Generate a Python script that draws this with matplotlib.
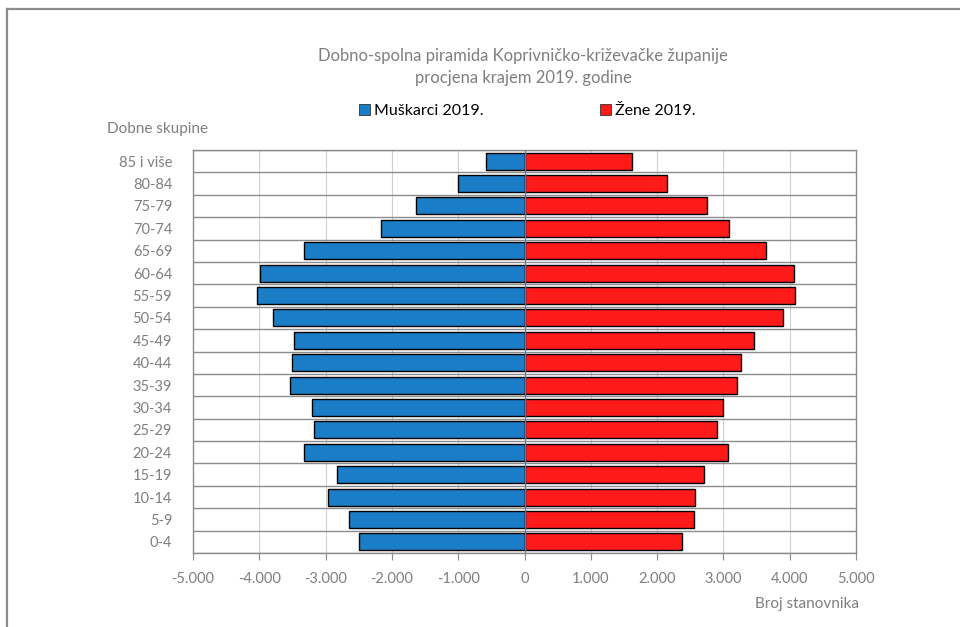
import matplotlib
matplotlib.use("Agg")
import matplotlib.pyplot as plt
from matplotlib.patches import Patch
from matplotlib.lines import Line2D
from matplotlib.ticker import FuncFormatter, MultipleLocator
import numpy as np

plt.rcParams['font.family'] = ['Lato', 'DejaVu Sans']

age_groups = ["0-4", "5-9", "10-14", "15-19", "20-24", "25-29", "30-34", "35-39",
              "40-44", "45-49", "50-54", "55-59", "60-64", "65-69", "70-74", "75-79",
              "80-84", "85 i više"]
males = [2495, 2650, 2965, 2825, 3330, 3180, 3205, 3540, 3510, 3470, 3800, 4035,
         3985, 3320, 2165, 1635, 1000, 580]
females = [2380, 2560, 2570, 2710, 3065, 2900, 2995, 3205, 3260, 3465, 3905, 4085,
           4070, 3640, 3090, 2750, 2145, 1625]
x_ticks = [-5000, -4000, -3000, -2000, -1000, 0, 1000, 2000, 3000, 4000, 5000]

title = "Dobno-spolna piramida Koprivničko-križevačke županije\nprocjena krajem 2019. godine"
male_label = "Muškarci 2019."
female_label = "Žene 2019."

blue = "#1B7DC5"
red = "#FF1A1A"
gray_text = "#7F7F7F"
grid_col = "#8C8C8C"

fig = plt.figure(figsize=(9.6, 6.27), dpi=100)
ax = fig.add_axes([193/960, 1-553/627, (856-193)/960, (553-150)/627])

y = np.arange(len(age_groups))
ax.barh(y, [-m for m in males], height=0.76, color=blue, edgecolor="black", linewidth=1.0, zorder=3)
ax.barh(y, females, height=0.76, color=red, edgecolor="black", linewidth=1.0, zorder=3)

ax.set_xlim(-5000, 5000)
ax.set_ylim(-0.5, len(age_groups)-0.5)
ax.set_xticks(x_ticks)
ax.xaxis.set_major_formatter(FuncFormatter(lambda v, p: f"{int(v):,}".replace(",", ".")))
ax.set_yticks(y)
ax.set_yticklabels(age_groups)
ax.yaxis.set_minor_locator(MultipleLocator(1, offset=0.5))
ax.grid(axis="y", which="minor", color=grid_col, linewidth=1.0, zorder=1)
ax.grid(axis="x", which="major", color="#D0D0D0", linewidth=0.8, zorder=1)
ax.axvline(0, color="#4A7EC8", linewidth=0.9, zorder=4)

for s in ax.spines.values():
    s.set_color(grid_col)
    s.set_linewidth(1.0)

ax.tick_params(axis="x", which="major", direction="out", length=5, color=grid_col,
               labelcolor=gray_text, labelsize=10.5, pad=9)
ax.tick_params(axis="y", which="both", length=0, labelcolor=gray_text, labelsize=10.5, pad=15)

fig.text(523/960, 1-67/627, title, ha="center", va="center", color=gray_text,
         fontsize=12, linespacing=1.45)

handles = [Patch(facecolor=blue, edgecolor="#333333", linewidth=0.6, label=male_label),
           Patch(facecolor=red, edgecolor="#333333", linewidth=0.6, label=female_label)]
fig.legend(handles=handles, loc="center", bbox_to_anchor=(527/960, 1-111/627), ncol=2,
           frameon=False, fontsize=11.5, handlelength=0.7, handleheight=0.7,
           handletextpad=0.25, columnspacing=7.3, borderpad=0)

fig.text(107/960, 1-129/627, "Dobne skupine", ha="left", va="center", color=gray_text, fontsize=11)
fig.text(859/960, 1-604/627, "Broj stanovnika", ha="right", va="center", color=gray_text, fontsize=11)

fig.add_artist(Line2D([7/960, 7/960], [0, 1-9/627], transform=fig.transFigure,
                      color="#8C8C8C", linewidth=1.6))
fig.add_artist(Line2D([7/960, 1], [1-9/627, 1-9/627], transform=fig.transFigure,
                      color="#8C8C8C", linewidth=1.6))

fig.savefig("out.png", dpi=100)
